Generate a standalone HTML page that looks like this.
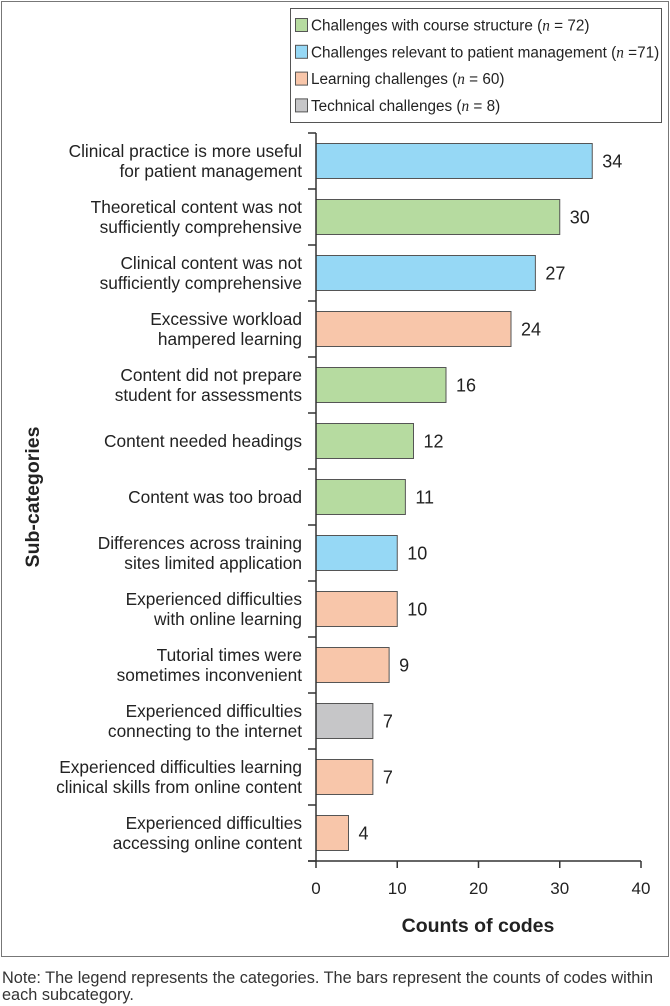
<!DOCTYPE html>
<html><head><meta charset="utf-8"><style>
body{margin:0;background:#fff;font-family:"Liberation Sans",sans-serif;}
#wrap{position:relative;width:670px;height:1006px;}
</style></head><body><div id="wrap">
<svg id="chart" width="670" height="1006" style="position:absolute;left:0;top:0"></svg>
</div>
<script>
const categories=["Clinical practice is more useful|for patient management","Theoretical content was not|sufficiently comprehensive","Clinical content was not|sufficiently comprehensive","Excessive workload|hampered learning","Content did not prepare|student for assessments","Content needed headings","Content was too broad","Differences across training|sites limited application","Experienced difficulties|with online learning","Tutorial times were|sometimes inconvenient","Experienced difficulties|connecting to the internet","Experienced difficulties learning|clinical skills from online content","Experienced difficulties|accessing online content"];
const values=[34,30,27,24,16,12,11,10,10,9,7,7,4];
const groups=["p","c","p","l","c","c","c","p","l","l","t","l","l"];
const xTicks=[0,10,20,30,40];
const legendLabels=[["Challenges with course structure (","72)"],["Challenges relevant to patient management (","=71)"],["Learning challenges (","60)"],["Technical challenges (","8)"]];
const legendKeys=["c","p","l","t"];
const colors={c:"#b6dba0",p:"#96d8f5",l:"#f8c6aa",t:"#c6c6c8"};
const NS="http://www.w3.org/2000/svg";
const svg=document.getElementById('chart');
function mk(t,a,p){const e=document.createElementNS(NS,t);for(const k in a)e.setAttribute(k,a[k]);(p||svg).appendChild(e);return e;}
const x0=316,x1=641,yTop=133,yBot=861;
const xs=v=>x0+(v-0)/(40-0)*(x1-x0);
const band=(yBot-yTop)/categories.length;
let e=mk('rect',{x:1.5,y:1.5,width:667,height:955,fill:'none',stroke:'#777','stroke-width':1});


e=mk('rect',{x:290.5,y:8.5,width:371,height:114,fill:'#fff',stroke:'#555','stroke-width':1});


legendLabels.forEach((l,i)=>{
 const y=25+i*26.8;
 const g=mk('g',{});
 
 
 mk('rect',{x:295.5,y:y-6.5,width:12,height:13,fill:colors[legendKeys[i]],stroke:'#555'},g);
 const t=mk('text',{x:311,y:y+5.5,'font-size':15.3,fill:'#222'},g);
 t.textContent=l[0];
 const n=mk('tspan',{'font-style':'italic','font-family':'Liberation Serif'},t);n.textContent='n';
 const r=mk('tspan',{},t);r.textContent=(i==1?' ':' = ')+l[1];
});
categories.forEach((c,i)=>{
 const cy=yTop+band*(i+0.5);
 const b=mk('rect',{x:xs(0),y:cy-17.5,width:xs(values[i])-xs(0),height:35,fill:colors[groups[i]],stroke:'#555','stroke-width':1});
 
 
 const v=mk('text',{x:xs(values[i])+10,y:cy+6.5,'font-size':18,fill:'#222'});
 
 
 v.textContent=values[i];
 const lines=c.split('|');
 const lt=mk('text',{x:302,'text-anchor':'end','font-size':17.3,fill:'#222'});
 
 
 lines.forEach((s,j)=>{const ts=mk('tspan',{x:302,y:cy+6+(j-(lines.length-1)/2)*20},lt);ts.textContent=s;});
});
e=mk('line',{x1:x0,y1:yTop,x2:x0,y2:yBot,stroke:'#333','stroke-width':1.5});


for(let i=0;i<=categories.length;i++){mk('line',{x1:x0-8,y1:yTop+band*i,x2:x0,y2:yTop+band*i,stroke:'#333','stroke-width':1.5});}
e=mk('line',{x1:x0-8,y1:yBot,x2:x1,y2:yBot,stroke:'#333','stroke-width':1.5});


xTicks.forEach(v=>{
 mk('line',{x1:xs(v),y1:yBot,x2:xs(v),y2:yBot+7,stroke:'#333','stroke-width':1.5});
 const t=mk('text',{x:xs(v),y:894,'text-anchor':'middle','font-size':17,fill:'#222'});
 
 
 t.textContent=v;
});
e=mk('text',{x:478,y:932,'text-anchor':'middle','font-size':19.5,'font-weight':'bold',fill:'#222'});


e.textContent='Counts of codes';
e=mk('text',{x:0,y:0,'text-anchor':'middle','font-size':19.5,'font-weight':'bold',fill:'#222',transform:'translate(39,497) rotate(-90)'});


e.textContent='Sub-categories';
const note=["Note: The legend represents the categories. The bars represent the counts of codes within","each subcategory."];
note.forEach((s,j)=>{const t=mk('text',{x:2,y:983+j*17,'font-size':16.3,fill:'#333'});
 
 
 t.textContent=s;});
</script></body></html>
